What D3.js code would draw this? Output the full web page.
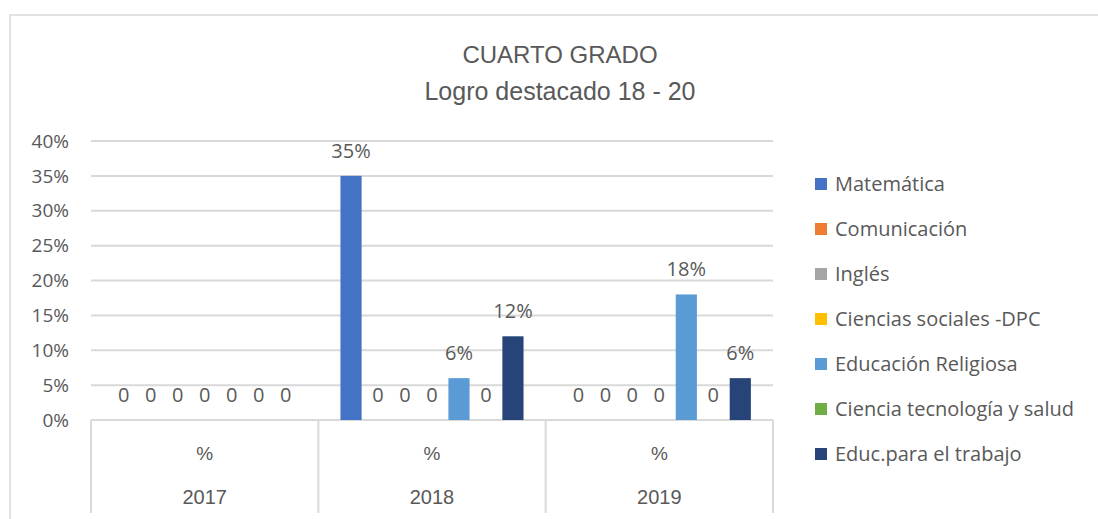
<!DOCTYPE html>
<html>
<head>
<meta charset="utf-8">
<script src="https://cdn.jsdelivr.net/npm/d3@7"></script>
<style>
  body { margin: 0; background: #fff; }
  text { font-family: "Open Sans", sans-serif; fill: #595959; }
  .ttl { font-family: "Liberation Sans", Arial, sans-serif; }
</style>
</head>
<body>
<div class="graphics"></div>
<script>
// datos
var years = ["2017", "2018", "2019"]
var subLabel = ["%", "%", "%"]
var subjects = ["Matemática", "Comunicación", "Inglés", "Ciencias sociales -DPC",
                "Educación Religiosa", "Ciencia tecnología y salud", "Educ.para el trabajo"]
var colors = ["#4472C4", "#ED7D31", "#A5A5A5", "#FFC000", "#5B9BD5", "#70AD47", "#264478"]
var v2017 = [0, 0, 0, 0, 0, 0, 0]
var v2018 = [0.35, 0, 0, 0, 0.06, 0, 0.12]
var v2019 = [0, 0, 0, 0, 0.18, 0, 0.06]
var yTicks = [0, 0.05, 0.10, 0.15, 0.20, 0.25, 0.30, 0.35, 0.40]

var values = [v2017, v2018, v2019]
var W = 1098, H = 519

var svg = d3.select(".graphics").append("svg")
    .attr("width", W).attr("height", H)

// marco del grafico
svg.append("rect")
    .attr("x", 10).attr("y", 15)
    .attr("width", W + 20).attr("height", H)
    .attr("fill", "none").attr("stroke", "#D9D9D9").attr("stroke-width", 1.5)

// titulo
svg.append("text").attr("class", "ttl").attr("x", 560).attr("y", 63)
    .attr("text-anchor", "middle").style("font-size", "24px")
    .text("CUARTO GRADO")
svg.append("text").attr("class", "ttl").attr("x", 560).attr("y", 100)
    .attr("text-anchor", "middle").style("font-size", "25px")
    .text("Logro destacado 18 - 20")

// escalas
var x0 = d3.scaleBand().domain(years).range([91, 773]).padding(0)
var x1 = d3.scaleBand().domain(subjects).range([0, x0.bandwidth()])
    .paddingInner(0.216).paddingOuter(0.82)
var y = d3.scaleLinear().domain([0, 0.4]).range([420, 141])

// lineas de la cuadricula
svg.selectAll(".grid")
    .data(yTicks)
    .enter()
    .append("line")
    .attr("x1", 91).attr("x2", 773)
    .attr("y1", function(d){ return y(d) })
    .attr("y2", function(d){ return y(d) })
    .attr("stroke", "#D9D9D9").attr("stroke-width", 2)

svg.selectAll(".ytick")
    .data(yTicks)
    .enter()
    .append("text")
    .attr("x", 69)
    .attr("y", function(d){ return y(d) })
    .attr("dy", "0.35em")
    .attr("text-anchor", "end")
    .style("font-size", "19px")
    .text(d3.format(".0%"))

// barras
var groups = svg.selectAll(".year")
    .data(years)
    .enter()
    .append("g")
    .attr("transform", function(d){ return "translate(" + x0(d) + ",0)" })

groups.selectAll("rect")
    .data(function(d, i){
        return values[i].map(function(v, j){ return {s: subjects[j], v: v, c: colors[j]} })
    })
    .enter()
    .append("rect")
    .attr("x", function(d){ return x1(d.s) })
    .attr("width", x1.bandwidth())
    .attr("y", function(d){ return y(d.v) })
    .attr("height", function(d){ return y(0) - y(d.v) })
    .attr("fill", function(d){ return d.c })

groups.selectAll(".lbl")
    .data(function(d, i){
        return values[i].map(function(v, j){ return {s: subjects[j], v: v} })
    })
    .enter()
    .append("text")
    .attr("x", function(d){ return x1(d.s) + x1.bandwidth() / 2 })
    .attr("y", function(d){ return y(d.v) - 25 })
    .attr("dy", "0.35em")
    .attr("text-anchor", "middle")
    .style("font-size", "20px")
    .text(function(d){ return d.v === 0 ? "0" : d3.format(".0%")(d.v) })

// eje de categorias de dos niveles
var bounds = years.map(function(d){ return x0(d) }).concat([x0.range()[1]])
svg.selectAll(".div")
    .data(bounds)
    .enter()
    .append("line")
    .attr("x1", function(d){ return d }).attr("x2", function(d){ return d })
    .attr("y1", 420).attr("y2", 513)
    .attr("stroke", "#D9D9D9").attr("stroke-width", 2)

svg.selectAll(".sub")
    .data(years)
    .enter()
    .append("text")
    .attr("class", "ttl")
    .attr("x", function(d){ return x0(d) + x0.bandwidth() / 2 })
    .attr("y", 453).attr("dy", "0.35em")
    .attr("text-anchor", "middle").style("font-size", "19px")
    .text(function(d, i){ return subLabel[i] })

svg.selectAll(".yr")
    .data(years)
    .enter()
    .append("text")
    .attr("class", "ttl")
    .attr("x", function(d){ return x0(d) + x0.bandwidth() / 2 })
    .attr("y", 497).attr("dy", "0.35em")
    .attr("text-anchor", "middle").style("font-size", "20px")
    .text(function(d){ return d })

// leyenda
var leg = svg.selectAll(".leg")
    .data(subjects)
    .enter()
    .append("g")
    .attr("transform", function(d, i){ return "translate(815," + (184 + i * 45) + ")" })

leg.append("rect")
    .attr("x", 0).attr("y", -6)
    .attr("width", 12).attr("height", 12)
    .attr("fill", function(d, i){ return colors[i] })

leg.append("text")
    .attr("x", 20).attr("y", 0).attr("dy", "0.35em")
    .style("font-size", "20px")
    .text(function(d){ return d })
</script>
</body>
</html>
